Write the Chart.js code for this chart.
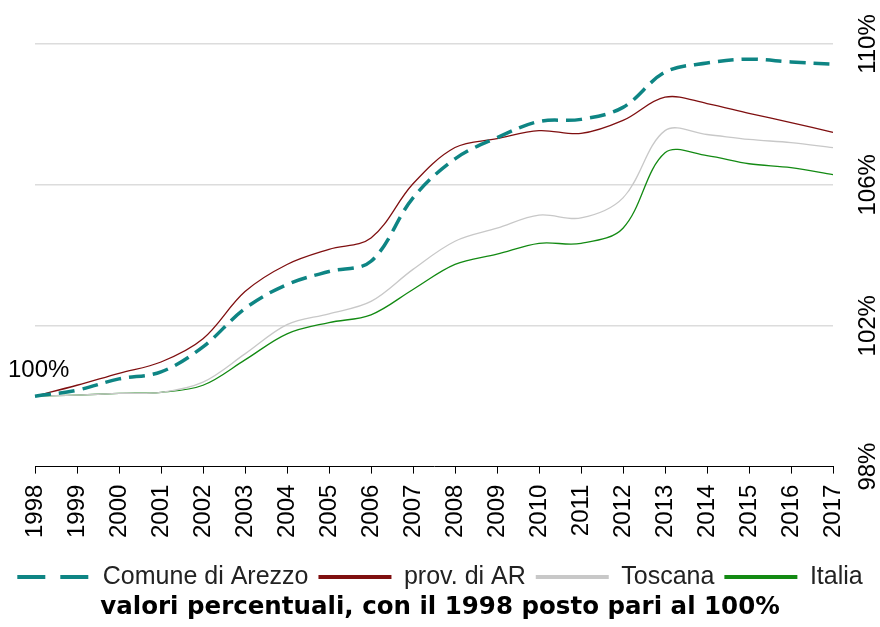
<!DOCTYPE html>
<html>
<head>
<meta charset="utf-8">
<script src="https://cdn.jsdelivr.net/npm/chart.js@4"></script>
<style>
  html, body { margin: 0; padding: 0; background: #fff; }
  #wrap { width: 880px; height: 627px; }
</style>
</head>
<body>
<div id="wrap"><canvas id="lineChart"></canvas></div>
<script>
    /* dati */
    const years = [
        "1998","1999","2000","2001","2002","2003","2004","2005","2006","2007",
        "2008","2009","2010","2011","2012","2013","2014","2015","2016","2017",
    ];

    const arezzo = [
        100, 100.17, 100.49, 100.69, 101.4, 102.49, 103.17, 103.54, 103.83, 105.63,
        106.74, 107.34, 107.8, 107.86, 108.2, 109.2, 109.46, 109.57, 109.49, 109.43,
    ];
    const provAR = [
        100, 100.31, 100.65, 100.97, 101.63, 102.97, 103.74, 104.17, 104.49, 106.03,
        107.06, 107.31, 107.54, 107.46, 107.83, 108.49, 108.31, 108.03, 107.77, 107.49,
    ];
    const toscana = [
        100, 100.03, 100.08, 100.11, 100.4, 101.2, 102.03, 102.34, 102.69, 103.6,
        104.4, 104.77, 105.14, 105.06, 105.63, 107.54, 107.43, 107.29, 107.2, 107.06,
    ];
    const italia = [
        100, 100.03, 100.08, 100.11, 100.31, 101.03, 101.77, 102.09, 102.31, 103.03,
        103.74, 104.03, 104.34, 104.34, 104.77, 106.91, 106.83, 106.6, 106.49, 106.29,
    ];

    const yTicks = [98, 102, 106, 110];
    const baseLabel = "100%";
    const titleText = "valori percentuali, con il 1998 posto pari al 100%";

    /* etichette asse y ruotate + 100% */
    const extraLabels = {
        id: 'extraLabels',
        afterDraw(chart) {
            const ctx = chart.ctx;
            const y = chart.scales.y;
            ctx.save();
            ctx.fillStyle = '#000';
            ctx.font = '24px "Liberation Sans", Arial, sans-serif';
            ctx.textAlign = 'center';
            ctx.textBaseline = 'middle';
            yTicks.forEach(v => {
                ctx.save();
                ctx.translate(868, y.getPixelForValue(v));
                ctx.rotate(-Math.PI / 2);
                ctx.fillText(v + '%', 0, 0);
                ctx.restore();
            });
            ctx.textAlign = 'left';
            ctx.textBaseline = 'alphabetic';
            ctx.fillText(baseLabel, 8, y.getPixelForValue(arezzo[0]) - 19);
            ctx.restore();
        }
    };

    const thin = 1.3;

    new Chart(document.getElementById('lineChart'), {
        type: 'line',
        data: {
            labels: years,
            datasets: [{
                label: 'Comune di Arezzo',
                data: arezzo,
                borderColor: '#0e8584',
                borderWidth: 3.5,
                borderDash: [16, 8],
                pointRadius: 0,
                tension: 0.35
            }, {
                label: 'prov. di AR',
                data: provAR,
                borderColor: '#7f0f10',
                borderWidth: thin,
                pointRadius: 0,
                tension: 0.35
            }, {
                label: 'Toscana',
                data: toscana,
                borderColor: '#c8c8c8',
                borderWidth: thin,
                pointRadius: 0,
                tension: 0.35
            }, {
                label: 'Italia',
                data: italia,
                borderColor: '#138a13',
                borderWidth: thin,
                pointRadius: 0,
                tension: 0.35
            }]
        },
        options: {
            responsive: true,
            maintainAspectRatio: false,
            animation: false,
            layout: { padding: { top: 44, bottom: 0 } },
            scales: {
                x: {
                    grid: { drawOnChartArea: false, drawTicks: true, tickLength: 7, color: '#000' },
                    border: { display: true, color: '#000', width: 1 },
                    ticks: {
                        color: '#000',
                        font: { family: '"Liberation Sans", Arial, sans-serif', size: 24 },
                        minRotation: 90, maxRotation: 90,
                        padding: 11,
                        autoSkip: false
                    },
                    afterFit(s) { s.height = 88; }
                },
                y: {
                    position: 'right',
                    min: 98, max: 110,
                    ticks: { display: false, stepSize: 4 },
                    grid: {
                        drawTicks: false,
                        lineWidth: 1.5,
                        color: ctx => ctx.tick && ctx.tick.value === 98 ? 'rgba(0,0,0,0)' : '#dcdcdc'
                    },
                    border: { display: false },
                    afterFit(s) { s.width = 47; }
                },
                yl: {
                    position: 'left',
                    display: true,
                    ticks: { display: false },
                    grid: { display: false },
                    border: { display: false },
                    afterFit(s) { s.width = 35; }
                }
            },
            plugins: {
                legend: {
                    position: 'bottom',
                    labels: {
                        usePointStyle: true,
                        pointStyle: 'line',
                        pointStyleWidth: 73,
                        padding: 10,
                        color: '#222',
                        font: { family: '"Liberation Sans", Arial, sans-serif', size: 25 },
                        generateLabels(chart) {
                            const items = Chart.defaults.plugins.legend.labels.generateLabels(chart);
                            items.forEach((it, i) => {
                                it.lineWidth = 4;
                                it.lineDash = i === 0 ? [28, 15] : [];
                                it.pointStyle = 'line';
                            });
                            return items;
                        }
                    }
                },
                title: {
                    display: true,
                    position: 'bottom',
                    text: titleText,
                    color: '#000',
                    font: { family: '"DejaVu Sans", sans-serif', size: 24.5, weight: 'bold' },
                    padding: { top: -7, bottom: 5 }
                },
                tooltip: { enabled: false }
            }
        },
        plugins: [extraLabels]
    });
</script>
</body>
</html>
